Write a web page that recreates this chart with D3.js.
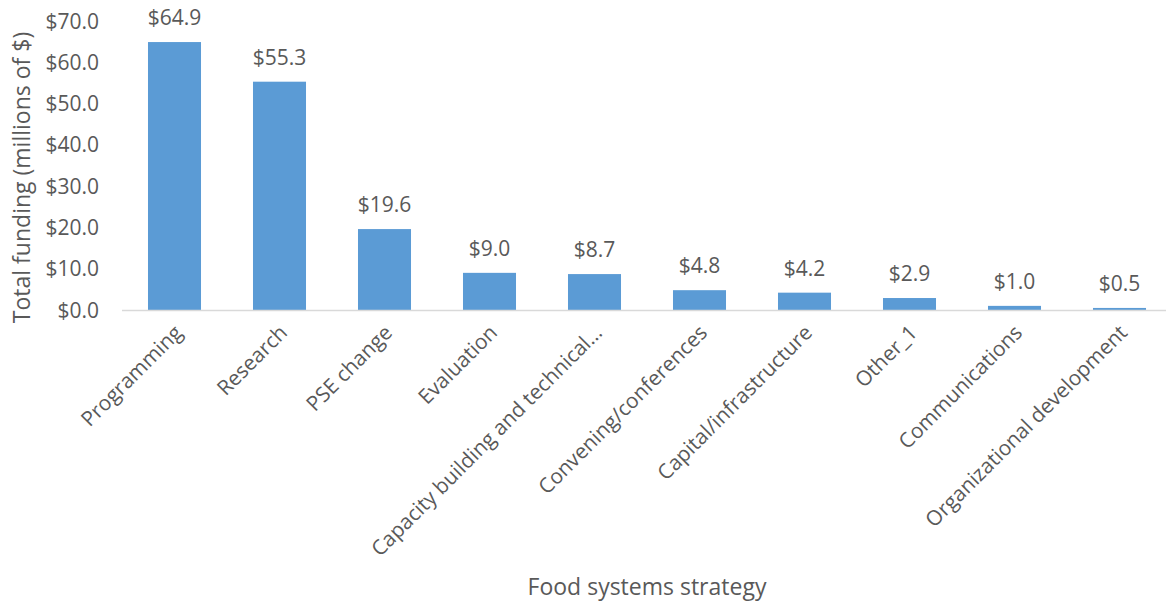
<!DOCTYPE html>
<html>
<head>
<meta charset="utf-8">
<script src="https://cdn.jsdelivr.net/npm/d3@7"></script>
<style>
  html, body { margin: 0; padding: 0; background: #fff; }
  svg { display: block; }
  text { font-family: "Open Sans", "Noto Sans", sans-serif; fill: #595959; }
</style>
</head>
<body>
<svg id="chart" width="1166" height="603"></svg>
<script>
// Funding by food systems strategy (millions of dollars)
const categories = [
  "Programming", "Research", "PSE change", "Evaluation",
  "Capacity building and technical…", "Convening/conferences",
  "Capital/infrastructure", "Other_1", "Communications",
  "Organizational development"
];
const funding = [64.9, 55.3, 19.6, 9.0, 8.7, 4.8, 4.2, 2.9, 1.0, 0.5];
const yTicks = [0, 10, 20, 30, 40, 50, 60, 70];

const svg = d3.select("#chart");
const margin = { left: 122, right: -6, top: 21, bottom: 293 };
const W = 1166, H = 603;

const x = d3.scaleBand()
  .domain(categories)
  .range([margin.left, W - margin.right])
  .paddingInner(0.495)
  .paddingOuter(0.2475);

const y = d3.scaleLinear()
  .domain([0, 70])
  .range([H - margin.bottom, margin.top]);

const fmt = v => "$" + d3.format(".1f")(v);

// y axis labels (no line, no ticks)
const yAxis = d3.axisLeft(y).tickValues(yTicks).tickFormat(fmt).tickSize(0).tickPadding(0);
const gy = svg.append("g").attr("transform", `translate(99,0)`).call(yAxis);
gy.select(".domain").remove();
gy.selectAll("text")
  .style("font-size", "21px")
  .style("font-family", "'Open Sans', sans-serif")
  .attr("fill", "#595959")
  .attr("dy", "0.34em");

// bars
svg.append("g").selectAll("rect")
  .data(funding)
  .join("rect")
  .attr("x", (d, i) => x(categories[i]))
  .attr("y", d => y(d))
  .attr("width", x.bandwidth())
  .attr("height", d => y(0) - y(d))
  .attr("fill", "#5B9BD5");

// baseline axis
const xAxis = d3.axisBottom(x).tickSize(0).tickPadding(0).tickFormat("");
const gx = svg.append("g").attr("transform", `translate(0,${y(0)})`).call(xAxis);
gx.select(".domain").attr("stroke", "#D9D9D9").attr("stroke-width", 1.5)
  .attr("d", `M${margin.left},0.5H${W}`);

// category labels rotated
svg.append("g").selectAll("text")
  .data(categories)
  .join("text")
  .attr("text-anchor", "end")
  .attr("transform", d => `translate(${x(d) + x.bandwidth() / 2 + 9},${y(0) + 24}) rotate(-45)`)
  .style("font-size", "20.8px")
  .text(d => d);

// value labels
svg.append("g").selectAll("text")
  .data(funding)
  .join("text")
  .attr("text-anchor", "middle")
  .attr("x", (d, i) => x(categories[i]) + x.bandwidth() / 2)
  .attr("y", d => y(d) - 17)
  .style("font-size", "21px")
  .attr("fill", "#404040")
  .text(fmt);

// axis titles
svg.append("text")
  .attr("transform", `translate(30,${(y(0) + y(70)) / 2 + 12}) rotate(-90)`)
  .attr("text-anchor", "middle")
  .style("font-size", "23px")
  .text("Total funding (millions of $)");

svg.append("text")
  .attr("x", 647)
  .attr("y", 595)
  .attr("text-anchor", "middle")
  .style("font-size", "23px")
  .text("Food systems strategy");
</script>
</body>
</html>
